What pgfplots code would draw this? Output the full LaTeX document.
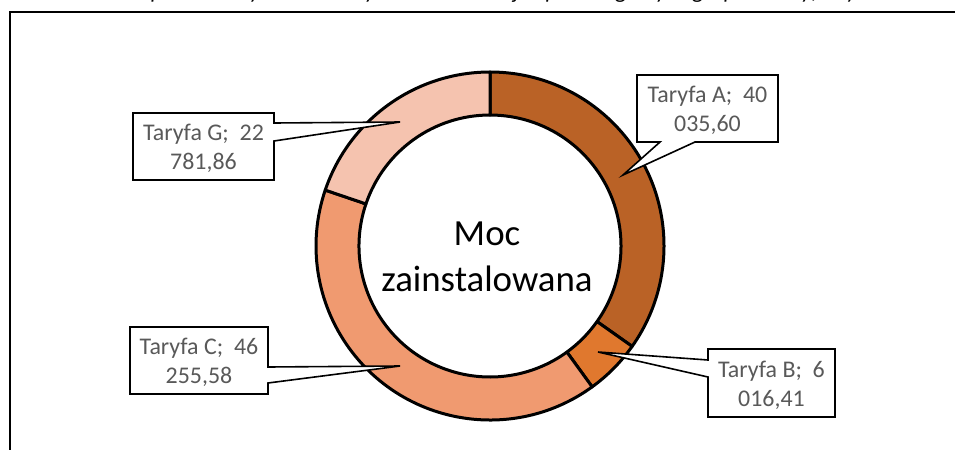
\documentclass[border=0pt]{standalone}
\usepackage{pgfplots}
\pgfplotsset{compat=1.18}
\usepackage{pgfplotstable}
\usepackage{fontspec}
\setmainfont{Carlito}

\definecolor{cA}{HTML}{BA6226}
\definecolor{cB}{HTML}{E0782E}
\definecolor{cC}{HTML}{F09A70}
\definecolor{cG}{HTML}{F5C3AF}
\definecolor{lbl}{HTML}{595959}

% installed power per tariff group, clockwise from 12 o'clock
\pgfplotstableread{
tariff value colour
A 40035.60 cA
B 6016.41 cB
C 46255.58 cC
G 22781.86 cG
}\tariffs

\begin{document}
\begin{tikzpicture}
\useasboundingbox (0,0) rectangle (955bp,450bp);
\clip (0,0) rectangle (955bp,450bp);
\begin{axis}[
    at={(0,0)}, anchor=south west,
    width=955bp, height=450bp, scale only axis,
    xmin=0, xmax=955, ymin=0, ymax=450,
    y dir=reverse,
    hide axis,
    clip=false
]

% --- total ---
\gdef\total{0}
\foreach \i in {0,...,3}{
  \pgfplotstablegetelem{\i}{value}\of\tariffs
  \pgfkeys{/pgf/fpu=true,/pgf/fpu/output format=fixed}
  \pgfmathsetmacro\t{\total+\pgfplotsretval}
  \pgfkeys{/pgf/fpu=false}
  \xdef\total{\t}
}

% --- donut ring ---
\gdef\cum{0}
\foreach \i in {0,...,3}{
  \pgfplotstablegetelem{\i}{value}\of\tariffs \let\v\pgfplotsretval
  \pgfplotstablegetelem{\i}{colour}\of\tariffs \let\c\pgfplotsretval
  \pgfkeys{/pgf/fpu=true,/pgf/fpu/output format=fixed}
  \pgfmathsetmacro\a{90-360*\cum/\total}
  \pgfmathsetmacro\b{90-360*(\cum+\v)/\total}
  \pgfmathsetmacro\n{\cum+\v}
  \pgfkeys{/pgf/fpu=false}
  \xdef\cum{\n}
  \edef\ringpart{\noexpand\filldraw[fill=\c, draw=black, line width=3bp, line join=round]
    (axis cs:490,246) ++(\a:174bp) arc[start angle=\a, end angle=\b, radius=174bp]
    -- ++(\b:-43bp) arc[start angle=\b, end angle=\a, radius=131bp] -- cycle;}
  \ringpart
}

% --- centre text ---
\node[align=center, font=\fontsize{37}{46}\selectfont] at (axis cs:487,257) {Moc\\zainstalowana};

% --- callouts ---
\filldraw[fill=white, draw=black, line width=1.6bp]
  (axis cs:637,75) -- (axis cs:778,75) -- (axis cs:778,142) -- (axis cs:695,142)
  -- (axis cs:623,175) -- (axis cs:660,142) -- (axis cs:637,142) -- cycle;
\filldraw[fill=white, draw=black, line width=1.6bp]
  (axis cs:133,113) -- (axis cs:274,113) -- (axis cs:274,123) -- (axis cs:400,122)
  -- (axis cs:274,141) -- (axis cs:274,180) -- (axis cs:133,180) -- cycle;
\filldraw[fill=white, draw=black, line width=1.6bp]
  (axis cs:130,327) -- (axis cs:268,327) -- (axis cs:268,367) -- (axis cs:400,366)
  -- (axis cs:268,383) -- (axis cs:268,394) -- (axis cs:130,394) -- cycle;
\filldraw[fill=white, draw=black, line width=1.6bp]
  (axis cs:708,349) -- (axis cs:835,349) -- (axis cs:835,417) -- (axis cs:708,417)
  -- (axis cs:708,377) -- (axis cs:598,352) -- (axis cs:708,360) -- cycle;

\tikzset{lab/.style={align=center, text=lbl, font=\fontsize{24}{29}\selectfont}}
\node[lab] at (axis cs:707.5,110) {Taryfa A;~ 40\\035,60};
\node[lab] at (axis cs:771.5,385) {Taryfa B;~ 6\\016,41};
\node[lab] at (axis cs:199,362) {Taryfa C;~ 46\\255,58};
\node[lab] at (axis cs:203.5,148) {Taryfa G;~ 22\\781,86};

% --- chart frame and cut-off caption ---
\draw[line width=1.3bp] (axis cs:10,470) -- (axis cs:10,12) -- (axis cs:970,12);
\node[anchor=base west, inner sep=0pt, font=\itshape\fontsize{23}{28}\selectfont]
  at (axis cs:28,-2) {Zestawienie: procentowy udział mocy zainstalowanej w poszczególnych grupach taryfowych};

\end{axis}
\end{tikzpicture}
\end{document}
